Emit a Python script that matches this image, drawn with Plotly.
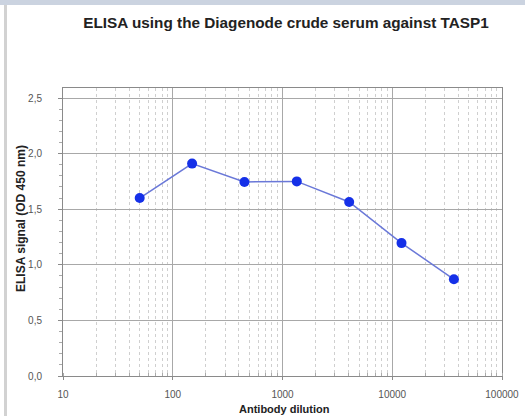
import plotly.graph_objects as go

dilution = [50, 150, 450, 1350, 4050, 12150, 36450]
signal = [1.60, 1.91, 1.745, 1.75, 1.565, 1.195, 0.87]
x_tickvals = [10, 100, 1000, 10000, 100000]
x_ticktext = ["10", "100", "1000", "10000", "100000"]
y_tickvals = [0.0, 0.5, 1.0, 1.5, 2.0, 2.5]
y_ticktext = ["0,0", "0,5", "1,0", "1,5", "2,0", "2,5"]

W, H = 525, 416
L, R, T, B = 63, 23, 88, 40
pw, ph = W - L - R, H - T - B

def px_x(p):
    return (p - L) / pw

def px_y(p):
    return (H - B - p) / ph

fig = go.Figure()
fig.add_trace(go.Scatter(
    x=dilution, y=signal, mode="lines+markers",
    line=dict(color="#6a78d8", width=1.5),
    marker=dict(color="#1530e8", size=10),
    showlegend=False,
))

fig.update_layout(
    width=W, height=H,
    margin=dict(l=L, r=R, t=T, b=B),
    paper_bgcolor="white", plot_bgcolor="white",
    font=dict(family="Liberation Sans, Arial, sans-serif", color="#555555", size=10),
    title=dict(text="<b>ELISA using the Diagenode crude serum against TASP1</b>",
               x=px_x(286), xref="paper", xanchor="center",
               y=1 - 23 / H, yanchor="middle",
               font=dict(size=15.3, color="#222222")),
    shapes=[
        dict(type="rect", xref="paper", yref="paper",
             x0=px_x(0), x1=px_x(W), y0=px_y(5), y1=px_y(0),
             fillcolor="#cbd3e0", line=dict(width=0), layer="above"),
        dict(type="line", xref="paper", yref="paper",
             x0=px_x(5.5), x1=px_x(5.5), y0=px_y(5), y1=px_y(H),
             line=dict(color="#d2d2d2", width=3)),
    ],
    annotations=[
        dict(text="<b>Antibody dilution</b>", xref="paper", yref="paper",
             x=px_x(284), y=px_y(409), xanchor="center", yanchor="middle",
             showarrow=False, font=dict(size=11, color="#222222")),
        dict(text="<b>ELISA signal (OD 450 nm)</b>", xref="paper", yref="paper",
             x=px_x(21), y=px_y(219), xanchor="center", yanchor="middle",
             textangle=-90, showarrow=False, font=dict(size=12, color="#222222")),
    ],
)

fig.update_xaxes(
    type="log", range=[1, 5], automargin=False,
    tickvals=x_tickvals, ticktext=x_ticktext,
    showgrid=True, gridcolor="#a8a8a8", gridwidth=1,
    showline=True, linecolor="#8a8a8a", linewidth=1, mirror=True,
    ticks="outside", ticklen=3, tickcolor="#8a8a8a",
    ticklabelstandoff=6,
    minor=dict(dtick="D1", showgrid=True, gridcolor="#cfcfcf", griddash="dot",
               ticks="inside", ticklen=3, tickcolor="#aaaaaa"),
    tickfont=dict(size=10, color="#555555"),
    zeroline=False,
)
fig.update_yaxes(
    range=[0, 2.59], automargin=False,
    tickvals=y_tickvals, ticktext=y_ticktext,
    showgrid=True, gridcolor="#a8a8a8", gridwidth=1,
    showline=True, linecolor="#8a8a8a", linewidth=1, mirror=True,
    ticks="outside", ticklen=4, tickcolor="#8a8a8a",
    ticklabelstandoff=14,
    minor=dict(dtick=0.1, ticks="outside", ticklen=3, tickcolor="#aaaaaa", showgrid=False),
    tickfont=dict(size=10, color="#555555"),
    zeroline=False,
)

fig.write_html("out.html", config={"displayModeBar": False},
               post_script="document.body.style.margin='0';document.body.style.overflow='hidden';")
